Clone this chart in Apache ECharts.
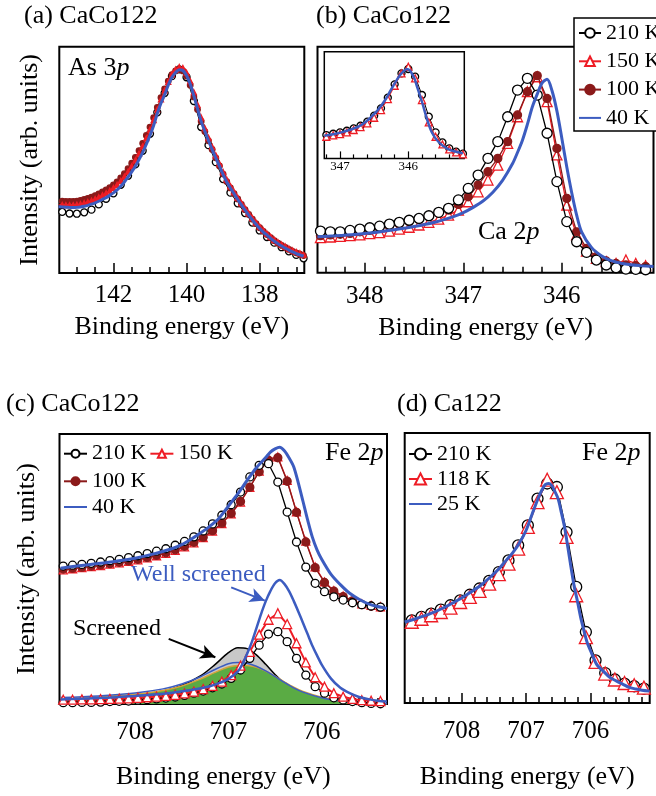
<!DOCTYPE html>
<html>
<head>
<meta charset="utf-8">
<script src="https://cdn.jsdelivr.net/npm/echarts@6/dist/echarts.min.js"></script>
<style>
html, body { margin: 0; padding: 0; background: #fff; }
#chart { width: 656px; height: 796px; }
</style>
</head>
<body>
<div id="chart"></div>
<script>
// ---------- (a) As 3p, CaCo122 ----------
const aEnergy = [143.5,143.4,143.3,143.2,143.1,143.0,142.9,142.8,142.7,142.6,142.5,142.4,142.3,142.2,142.1,142.0,141.9,141.8,141.7,141.6,141.5,141.4,141.3,141.2,141.1,141.0,140.9,140.8,140.7,140.6,140.5,140.4,140.3,140.2,140.1,140.0,139.9,139.8,139.7,139.6,139.5,139.4,139.3,139.2,139.1,139.0,138.9,138.8,138.7,138.6,138.5,138.4,138.3,138.2,138.1,138.0,137.9,137.8,137.7,137.6,137.5,137.4,137.3,137.2,137.1,137.0,136.9,136.8];
const a40K  = [29.3,29.2,29.1,29.0,28.9,29.0,29.2,29.5,29.9,30.4,31.0,31.7,32.5,33.3,34.3,35.4,36.7,38.3,40.2,42.4,44.7,47.2,50.1,53.3,56.9,60.8,65.2,70.5,75.0,78.8,83.0,86.5,88.6,89.8,89.5,87.3,83.5,78.3,72.6,67.0,62.6,58.5,54.5,50.8,47.2,43.5,40.2,37.5,35.0,32.5,30.1,27.8,25.6,23.5,21.5,19.7,18.1,16.7,15.3,14.0,12.9,11.9,11.0,10.1,9.3,8.6,8.0,7.4];
const a100K = [31.8,31.7,31.6,31.6,31.6,31.8,32.1,32.5,33.0,33.5,34.2,35.0,35.8,36.7,37.7,38.9,40.3,42.0,43.9,46.1,48.5,51.1,54.1,57.3,60.8,64.5,68.6,73.2,77.5,81.3,84.8,87.6,89.3,90.0,89.3,87.0,83.0,77.8,72.2,67.0,62.5,58.4,54.6,50.9,47.3,43.7,40.4,37.6,35.1,32.7,30.3,28.0,25.9,23.8,21.8,20.0,18.4,17.0,15.6,14.3,13.2,12.2,11.3,10.4,9.6,8.9,8.3,7.7];
const a150K = [30.2,30.1,30.0,30.0,30.0,30.2,30.5,30.9,31.4,32.0,32.7,33.5,34.4,35.3,36.4,37.6,39.0,40.7,42.6,44.8,47.2,49.8,52.8,56.0,59.6,63.4,67.6,72.3,76.7,80.7,84.5,87.8,89.9,91.0,90.6,88.5,84.8,79.9,74.3,68.7,64.0,59.8,55.8,52.0,48.3,44.6,41.3,38.4,35.8,33.3,30.9,28.6,26.4,24.3,22.3,20.5,18.9,17.4,16.0,14.7,13.6,12.6,11.7,10.8,10.0,9.3,8.7,8.1];
const a210KEnergy = [143.4,143.2,143.0,142.8,142.6,142.4,142.2,142.0,141.8,141.6,141.4,141.2,141.0,140.8,140.6,140.4,140.2,140.0,139.8,139.6,139.4,139.2,139.0,138.8,138.6,138.4,138.2,138.0,137.8,137.6,137.4,137.2,137.0,136.8];
const a210K = [27.0,26.3,26.2,26.8,28.0,30.3,32.8,35.2,39.0,43.0,48.0,54.0,61.5,71.0,79.5,87.0,90.0,86.5,76.0,64.5,56.5,49.0,41.5,35.5,30.8,26.5,22.3,18.8,15.9,13.4,11.4,9.6,8.0,6.5];

// ---------- (b) Ca 2p, CaCo122 ----------
const bEnergy = [348.45,348.35,348.25,348.15,348.05,347.95,347.85,347.75,347.65,347.55,347.45,347.35,347.25,347.15,347.05,346.95,346.85,346.75,346.65,346.55,346.45,346.35,346.25,346.15,346.05,345.95,345.85,345.75,345.65,345.55,345.45,345.35,345.25,345.15];
const b210K = [18.4,18.1,18.1,18.7,19.3,19.9,20.6,21.5,22.3,23.2,24.0,25.2,26.7,28.5,32.2,37.3,43.2,50.6,58.0,69.0,80.8,86.0,78.6,61.7,40.3,22.6,13.7,9.0,5.6,3.4,2.2,1.6,1.5,1.3];
const b150K = [15.5,15.8,16.1,16.4,16.7,17.3,17.7,18.4,19.3,20.1,21.1,22.3,23.7,25.5,27.7,31.4,35.8,41.0,47.6,57.2,69.0,80.1,86.7,75.7,52.1,29.9,16.7,9.6,6.3,4.9,4.1,5.6,4.1,3.1];
const b100K = [16.4,16.7,17.0,17.4,18.1,18.7,19.6,20.4,21.4,22.6,23.7,24.9,26.3,27.7,30.2,33.6,38.8,44.7,50.6,58.0,69.8,80.1,87.2,77.1,55.0,32.9,18.1,10.8,7.1,5.2,4.1,3.4,3.1,2.7];
const b40KEnergy = [348.48,348.3,348.1,347.9,347.7,347.5,347.3,347.1,347.0,346.9,346.8,346.7,346.6,346.5,346.45,346.4,346.35,346.3,346.25,346.2,346.15,346.1,346.05,346.0,345.95,345.9,345.85,345.8,345.7,345.6,345.5,345.4,345.3,345.2,345.07];
const b40K = [15.9,16.3,16.9,17.8,19.0,20.4,22.2,24.8,26.6,28.9,31.7,35.6,41.0,48.3,53.2,58.6,65.6,73.3,79.0,84.0,85.6,80.5,71.5,59.4,46.8,35.4,25.5,18.1,11.2,7.5,5.3,4.2,3.5,3.1,2.7];

// inset of (b)
const insetEnergy = [347.2,347.1,347.0,346.9,346.8,346.7,346.6,346.5,346.4,346.3,346.2,346.1,346.0,345.9,345.8,345.7,345.6,345.5,345.4,345.3,345.2];
const inset210K = [21.9,23.1,24.4,25.9,28.1,30.6,34.4,40.0,46.9,56.9,69.4,79.7,83.8,76.6,59.4,39.1,24.4,15.0,9.4,6.3,4.4];
const inset150K = [20.3,21.6,22.8,24.4,26.6,29.4,32.8,38.1,45.3,55.6,68.1,79.7,85.9,75.0,54.7,33.8,20.3,13.1,8.4,5.6,3.8];
const inset40KEnergy = [347.23,347.1,346.98,346.85,346.73,346.63,346.54,346.45,346.39,346.32,346.27,346.22,346.17,346.12,346.06,346.02,345.98,345.95,345.91,345.88,345.84,345.80,345.73,345.66,345.56,345.41,345.20];
const inset40K = [21.3,22.7,24.4,26.8,29.7,33.8,39.1,45.0,50.0,56.6,62.5,68.0,73.4,78.2,82.2,83.8,82.6,79.7,75.0,68.8,61.0,53.1,37.5,25.0,15.6,8.4,4.7];

// ---------- (c) Fe 2p, CaCo122 ----------
const cEnergy = [708.77,708.67,708.57,708.47,708.37,708.27,708.17,708.07,707.97,707.87,707.77,707.67,707.57,707.47,707.37,707.27,707.17,707.07,706.97,706.87,706.77,706.67,706.57,706.47,706.37,706.27,706.17,706.07,705.97,705.87,705.77,705.67,705.57,705.47,705.37];
const cUpper210K = [51.1,51.4,51.7,52.1,52.6,53.1,53.6,54.2,54.9,55.7,56.6,57.5,58.8,60.2,61.9,64.1,66.7,69.9,73.8,78.5,84.1,88.4,89.0,82.2,71.1,60.0,50.7,44.7,41.6,39.7,38.5,37.5,36.8,36.3,35.9];
const cUpper150K = [49.7,50.1,50.5,50.9,51.3,51.8,52.3,52.8,53.4,54.1,54.9,55.8,56.9,58.2,59.7,61.6,64.0,66.8,70.4,74.8,80.2,86.3,90.8,91.5,82.8,71.2,60.3,50.8,45.2,42.0,40.0,38.4,37.1,36.5,36.0];
const cUpper100K = [50.0,50.3,50.7,51.1,51.5,52.0,52.5,53.0,53.6,54.3,55.1,56.0,57.1,58.4,59.9,61.8,64.2,67.0,70.6,75.0,80.3,86.0,90.3,91.2,82.5,71.0,60.0,50.5,45.0,41.8,39.8,38.2,36.8,36.2,35.8];
const cUpper40KEnergy = [708.8,708.6,708.4,708.2,708.0,707.8,707.6,707.5,707.4,707.3,707.2,707.1,707.0,706.9,706.8,706.7,706.6,706.55,706.5,706.45,706.4,706.35,706.3,706.25,706.2,706.15,706.1,706.05,706.0,705.9,705.8,705.7,705.6,705.5,705.4,705.3];
const cUpper40K = [50.3,51.2,52.0,52.9,54.0,55.6,57.6,59.0,61.0,63.3,65.8,68.8,73.3,77.8,82.8,87.5,91.3,93.3,94.5,95.1,93.8,91.2,87.9,81.8,75.0,68.1,61.8,57.1,53.6,48.0,44.2,41.0,38.8,37.1,36.1,35.4];
const cLower210K = [0.5,0.5,0.6,0.6,0.7,0.9,1.0,1.1,1.4,1.6,1.9,2.2,2.6,3.2,4.0,4.8,6.0,7.4,9.5,12.6,16.9,21.8,25.9,26.8,23.1,16.9,10.7,6.4,4.0,2.3,1.5,0.9,0.5,0.2,0.1];
const cLower150K = [1.6,1.6,1.7,1.7,1.8,1.9,2.0,2.1,2.3,2.5,2.7,3.0,3.4,3.9,4.6,5.5,6.7,8.3,10.7,14.2,19.3,25.7,31.2,33.6,29.6,22.5,15.4,9.9,6.4,4.0,2.7,1.9,1.4,1.2,1.1];
const cLower40KEnergy = [708.8,708.6,708.4,708.2,708.0,707.8,707.6,707.4,707.2,707.1,707.0,706.9,706.85,706.8,706.75,706.7,706.65,706.6,706.55,706.5,706.45,706.4,706.35,706.3,706.25,706.2,706.15,706.1,706.05,706.0,705.9,705.8,705.7,705.6,705.5,705.4,705.3];
const cLower40K = [1.7,1.9,2.2,2.5,3.0,3.5,4.2,5.2,6.6,7.7,9.3,12.0,14.8,18.5,22.8,28.0,33.3,38.0,41.8,44.7,45.9,44.5,41.8,38.2,34.2,30.0,25.8,21.6,18.0,14.6,9.4,6.0,4.0,2.6,1.8,1.2,0.9];
// screened components
const screenedEnergy = [708.8,708.4,708.0,707.7,707.5,707.3,707.15,707.0,706.9,706.8,706.7,706.6,706.5,706.4,706.3,706.2,706.0,705.8,705.6,705.3];
const screened210K = [1.2,1.9,3.1,4.8,6.9,10.4,14.4,19.0,20.8,20.5,18.2,14.7,10.9,7.7,5.2,3.3,1.4,0.5,0.2,0.0];
const screened150K = [2.0,2.6,3.6,5.0,6.7,9.2,11.6,13.7,14.3,14.3,13.6,12.2,10.3,8.2,6.2,4.6,2.5,1.2,0.5,0.1];
const screened40K = [2.4,3.0,4.1,5.6,7.4,10.1,12.7,14.9,15.4,15.1,14.0,12.3,10.2,8.0,6.0,4.4,2.3,1.1,0.5,0.1];
// arrow end points [energy, intensity]
const wellScreenedArrow = [[706.97, 43.2], [706.61, 38.3]];
const screenedArrow = [[707.64, 24.1], [707.14, 17.3]];

// ---------- (d) Fe 2p, Ca122 ----------
const dEnergy = [708.77,708.62,708.47,708.32,708.17,708.02,707.87,707.72,707.57,707.42,707.27,707.12,706.97,706.82,706.67,706.52,706.37,706.22,706.07,705.92,705.77,705.62,705.47,705.32,705.17];
const d210K = [30.6,31.9,33.1,34.6,36.2,38.0,40.1,42.4,45.2,48.5,52.8,58.4,65.8,75.7,81.3,80.0,63.3,43.0,26.3,15.8,11.1,8.7,7.2,6.2,5.3];
const d118K = [30.1,31.2,32.5,33.7,35.3,37.4,39.3,41.5,44.2,47.7,51.6,57.2,65.2,74.4,82.7,78.1,61.5,39.9,24.4,15.2,10.9,8.7,7.4,6.6,5.7];
const d25KEnergy = [708.88,708.7,708.5,708.3,708.1,707.9,707.7,707.5,707.4,707.3,707.2,707.1,707.0,706.9,706.8,706.75,706.7,706.65,706.6,706.55,706.5,706.45,706.4,706.35,706.3,706.25,706.2,706.15,706.1,706.05,706.0,705.9,705.8,705.7,705.6,705.5,705.4,705.3,705.2,705.08];
const d25K = [30.0,31.3,32.9,35.0,37.5,40.4,43.6,47.8,50.2,53.0,55.8,59.3,63.8,70.2,76.4,79.0,80.9,81.3,80.6,78.3,75.6,70.5,65.1,57.8,50.2,43.1,37.6,31.6,26.8,22.4,19.5,14.2,11.8,9.5,8.2,7.0,5.8,5.2,4.7,4.4];

// ---------- tick values ----------
const aMajorTicks = [142, 140, 138];
const aMinorTicks = [143, 142.5, 141.5, 141, 140.5, 139.5, 139, 138.5, 137.5, 137];
const bMajorTicks = [348, 347, 346];
const bMinorTicks = [348.4, 348.2, 347.8, 347.6, 347.4, 347.2, 346.8, 346.6, 346.4, 346.2, 345.8, 345.6, 345.4, 345.2];
const insetMajorTicks = [347, 346];
const insetMinorTicks = [347.2, 346.8, 346.6, 346.4, 346.2, 345.8, 345.6, 345.4, 345.2];
const feMajorTicks = [708, 707, 706];
const cMinorTicks = [708.6, 708.4, 708.2, 707.8, 707.6, 707.4, 707.2, 706.8, 706.6, 706.4, 706.2, 705.8, 705.6, 705.4];
const dMinorTicks = [708.8, 708.6, 708.4, 708.2, 707.8, 707.6, 707.4, 707.2, 706.8, 706.6, 706.4, 706.2, 705.8, 705.6, 705.4, 705.2];

// ---------- styling ----------
const FONT = 'Liberation Serif';
const BLACK = '#000000';
const RED = '#ee1c25';
const BROWN = '#8b1a1a';
const BLUE = '#3c5cc0';
const GREY = '#c8c8c8';
const GREEN = '#5aab44';
const ORANGE = '#d6a23a';

function pts(xs, ys) { return xs.map((x, i) => [x, ys[i]]); }

function energyAxes(gridIndex, range, major, minor, o) {
  const base = {
    type: 'value', gridIndex: gridIndex, min: range[0], max: range[1], inverse: true,
    position: 'bottom', offset: 0, splitLine: { show: false }, axisLine: { show: false }
  };
  return [
    Object.assign({}, base, {
      axisTick: { show: true, inside: true, length: o.majorLen, lineStyle: { color: BLACK, width: o.tickWidth }, customValues: major },
      axisLabel: { show: true, customValues: major, margin: o.margin, color: BLACK, fontFamily: FONT, fontSize: o.fontSize },
      name: o.name || '', nameLocation: 'middle', nameGap: o.nameGap || 0, nameMoveOverlap: false,
      nameTextStyle: { color: BLACK, fontFamily: FONT, fontSize: 26 }
    }),
    Object.assign({}, base, {
      axisTick: { show: true, inside: true, length: o.minorLen, lineStyle: { color: BLACK, width: o.tickWidth }, customValues: minor },
      axisLabel: { show: false }
    })
  ];
}

function intensityAxis(gridIndex, name, gap) {
  return {
    type: 'value', gridIndex: gridIndex, min: 0, max: 100,
    axisLine: { show: false }, axisTick: { show: false }, axisLabel: { show: false }, splitLine: { show: false },
    name: name || '', nameLocation: 'middle', nameGap: gap || 0, nameMoveOverlap: false,
    nameTextStyle: { color: BLACK, fontFamily: FONT, fontSize: 26 }
  };
}

function markerSeries(name, axis, data, symbol, size, fill, stroke, lineWidth, z) {
  return {
    type: 'line', name: name, xAxisIndex: axis[0], yAxisIndex: axis[1], data: data,
    symbol: symbol, symbolSize: size, z: z, silent: true,
    itemStyle: { color: fill, borderColor: stroke, borderWidth: 1.3 },
    lineStyle: { color: stroke, width: lineWidth }
  };
}

function curveSeries(name, axis, data, color, width, z) {
  return {
    type: 'line', name: name, xAxisIndex: axis[0], yAxisIndex: axis[1], data: data,
    symbol: 'none', smooth: 0.3, z: z, silent: true,
    itemStyle: { color: color }, lineStyle: { color: color, width: width }
  };
}

function areaSeries(name, axis, data, edge, fill, z) {
  return {
    type: 'line', name: name, xAxisIndex: axis[0], yAxisIndex: axis[1], data: data,
    symbol: 'none', smooth: 0.3, z: z, silent: true,
    itemStyle: { color: edge }, lineStyle: { color: edge, width: 1.5 },
    areaStyle: fill ? { color: fill, opacity: 1 } : undefined
  };
}

function arrow(points, color) {
  return {
    silent: true, animation: false, symbol: ['none', 'arrow'], symbolSize: [11, 15],
    label: { show: false }, lineStyle: { color: color, width: 2, type: 'solid' },
    data: [[{ coord: points[0] }, { coord: points[1] }]]
  };
}

function txt(x, baseline, str, size, color) {
  return {
    type: 'text', x: x, y: baseline - 0.3375 * size, z: 100, silent: true,
    style: { text: str, fontFamily: FONT, fontSize: size, fill: color || BLACK, align: 'left', verticalAlign: 'middle' }
  };
}

function coreLevel(x, baseline, head, orbital, size) {
  return {
    type: 'text', x: x, y: baseline - 0.3375 * size, z: 100, silent: true,
    style: {
      text: '{r|' + head + '}{i|' + orbital + '}', fontFamily: FONT, fontSize: size,
      align: 'left', verticalAlign: 'middle',
      rich: {
        r: { fontFamily: FONT, fontSize: size, fill: BLACK },
        i: { fontFamily: FONT, fontSize: size, fontStyle: 'italic', fill: BLACK }
      }
    }
  };
}

function legendBox(extra) {
  return Object.assign({
    selectedMode: false, padding: 0,
    textStyle: { fontFamily: FONT, fontSize: 22, color: BLACK },
    formatter: function (n) { return n.split('|')[1]; }
  }, extra);
}

const A = [0, 0], B = [2, 1], I = [4, 2], C = [6, 3], D = [8, 4];

const option = {
  animation: false,
  backgroundColor: '#ffffff',
  grid: [
    { left: 59.3, top: 46.7, width: 245, height: 226.3, show: true, borderColor: BLACK, borderWidth: 2, backgroundColor: 'transparent', outerBoundsMode: 'none', containLabel: false },
    { left: 317.5, top: 46.7, width: 336, height: 226, show: true, borderColor: BLACK, borderWidth: 2, backgroundColor: 'transparent', outerBoundsMode: 'none', containLabel: false },
    { left: 324.3, top: 51.7, width: 140, height: 106.7, show: true, borderColor: BLACK, borderWidth: 1.5, backgroundColor: '#ffffff', outerBoundsMode: 'none', containLabel: false },
    { left: 59.5, top: 434, width: 327.5, height: 270, show: true, borderColor: BLACK, borderWidth: 2, backgroundColor: 'transparent', outerBoundsMode: 'none', containLabel: false },
    { left: 404.7, top: 433, width: 245, height: 270, show: true, borderColor: BLACK, borderWidth: 2, backgroundColor: 'transparent', outerBoundsMode: 'none', containLabel: false }
  ],
  xAxis: [].concat(
    energyAxes(0, [136.78, 143.48], aMajorTicks, aMinorTicks, { majorLen: 10, minorLen: 6, tickWidth: 1.5, margin: 9.5, fontSize: 25, name: 'Binding energy (eV)', nameGap: 41 }),
    energyAxes(1, [345.07, 348.48], bMajorTicks, bMinorTicks, { majorLen: 10, minorLen: 6, tickWidth: 1.5, margin: 11, fontSize: 25, name: 'Binding energy (eV)', nameGap: 42 }),
    energyAxes(2, [345.18, 347.23], insetMajorTicks, insetMinorTicks, { majorLen: 7, minorLen: 4, tickWidth: 1.2, margin: 2, fontSize: 13 }),
    energyAxes(3, [705.30, 708.81], feMajorTicks, cMinorTicks, { majorLen: 10, minorLen: 6, tickWidth: 1.5, margin: 16, fontSize: 25, name: 'Binding energy (eV)', nameGap: 60 }),
    energyAxes(4, [705.08, 708.88], feMajorTicks, dMinorTicks, { majorLen: 10, minorLen: 6, tickWidth: 1.5, margin: 15.5, fontSize: 25, name: 'Binding energy (eV)', nameGap: 61 })
  ),
  yAxis: [
    intensityAxis(0, 'Intensity (arb. units)', 16),
    intensityAxis(1),
    intensityAxis(2),
    intensityAxis(3, 'Intensity (arb. units)', 19),
    intensityAxis(4)
  ],
  legend: [
    legendBox({
      data: ['b|210 K', 'b|150 K', 'b|100 K', { name: 'b|40 K', itemStyle: { opacity: 0 } }],
      orient: 'vertical', left: 574, top: 18, padding: [4, 24, 2, 4], itemWidth: 22, itemHeight: 12, itemGap: 6.3,
      backgroundColor: '#ffffff', borderColor: BLACK, borderWidth: 1.5, z: 20
    }),
    legendBox({ data: ['c|210 K', 'c|150 K'], orient: 'horizontal', left: 63, top: 442.7, itemWidth: 23, itemHeight: 10, itemGap: 3 }),
    legendBox({ data: ['c|100 K'], orient: 'horizontal', left: 63, top: 470.3, itemWidth: 23, itemHeight: 10, itemGap: 3 }),
    legendBox({ data: [{ name: 'c|40 K', itemStyle: { opacity: 0 } }], orient: 'horizontal', left: 63, top: 496, itemWidth: 23, itemHeight: 10, itemGap: 3 }),
    legendBox({
      data: ['d|210 K', 'd|118 K', { name: 'd|25 K', itemStyle: { opacity: 0 } }],
      orient: 'vertical', left: 408, top: 443, itemWidth: 23, itemHeight: 14, itemGap: 3
    })
  ],
  series: [
    // (a)
    markerSeries('a|210 K', A, pts(a210KEnergy, a210K), 'circle', 7, '#ffffff', BLACK, 1, 3),
    markerSeries('a|100 K', A, pts(aEnergy, a100K), 'circle', 5.5, BROWN, BROWN, 1, 4),
    markerSeries('a|150 K', A, pts(aEnergy, a150K), 'triangle', 5, RED, RED, 1, 5),
    curveSeries('a|40 K', A, pts(aEnergy, a40K), BLUE, 3, 6),
    // (b)
    markerSeries('b|150 K', B, pts(bEnergy, b150K), 'triangle', 10, '#ffffff', RED, 1.3, 3),
    markerSeries('b|100 K', B, pts(bEnergy, b100K), 'circle', 8, BROWN, BROWN, 1.3, 4),
    markerSeries('b|210 K', B, pts(bEnergy, b210K), 'circle', 10, '#ffffff', BLACK, 1.3, 5),
    curveSeries('b|40 K', B, pts(b40KEnergy, b40K), BLUE, 3, 6),
    // inset
    markerSeries('i|210 K', I, pts(insetEnergy, inset210K), 'circle', 7, '#ffffff', BLACK, 1, 3),
    markerSeries('i|150 K', I, pts(insetEnergy, inset150K), 'triangle', 7, '#ffffff', RED, 1, 4),
    curveSeries('i|40 K', I, pts(inset40KEnergy, inset40K), BLUE, 2.5, 5),
    // (c) screened components
    Object.assign(areaSeries('c|screened 210 K', C, pts(screenedEnergy, screened210K), BLACK, GREY, 1),
      { markLine: arrow(screenedArrow, BLACK) }),
    areaSeries('c|screened 150 K', C, pts(screenedEnergy, screened150K), ORANGE, GREEN, 1.5),
    areaSeries('c|screened 40 K', C, pts(screenedEnergy, screened40K), BLUE, null, 1.6),
    // (c) spectra
    markerSeries('c|150 K', C, pts(cEnergy, cUpper150K), 'triangle', 8, '#ffffff', RED, 1.3, 3),
    markerSeries('c|100 K', C, pts(cEnergy, cUpper100K), 'circle', 8, BROWN, BROWN, 1.3, 4),
    markerSeries('c|210 K', C, pts(cEnergy, cUpper210K), 'circle', 8, '#ffffff', BLACK, 1.3, 5),
    curveSeries('c|40 K', C, pts(cUpper40KEnergy, cUpper40K), BLUE, 3, 6),
    markerSeries('c|210 K', C, pts(cEnergy, cLower210K), 'circle', 8, '#ffffff', BLACK, 1.3, 3),
    markerSeries('c|150 K', C, pts(cEnergy, cLower150K), 'triangle', 9, '#ffffff', RED, 2, 4),
    Object.assign(curveSeries('c|40 K', C, pts(cLower40KEnergy, cLower40K), BLUE, 2.5, 6),
      { markLine: arrow(wellScreenedArrow, BLUE) }),
    // (d)
    markerSeries('d|210 K', D, pts(dEnergy, d210K), 'circle', 11, '#ffffff', BLACK, 1.3, 3),
    markerSeries('d|118 K', D, pts(dEnergy, d118K), 'triangle', 13, '#ffffff', RED, 1.3, 4),
    curveSeries('d|25 K', D, pts(d25KEnergy, d25K), BLUE, 3, 5)
  ],
  graphic: [
    txt(24, 25, '(a) CaCo122', 26),
    txt(316, 25, '(b) CaCo122', 26),
    txt(6, 413, '(c) CaCo122', 26),
    txt(397, 413, '(d) Ca122', 26),
    coreLevel(68, 77, 'As 3', 'p', 26),
    coreLevel(478, 241, 'Ca 2', 'p', 26),
    coreLevel(325, 462, 'Fe 2', 'p', 26),
    coreLevel(582, 462, 'Fe 2', 'p', 26),
    txt(131, 583, 'Well screened', 24, BLUE),
    txt(73, 637, 'Screened', 24, BLACK)
  ]
};

const chart = echarts.init(document.getElementById('chart'), null, { renderer: 'canvas' });
chart.setOption(option);
</script>
</body>
</html>
